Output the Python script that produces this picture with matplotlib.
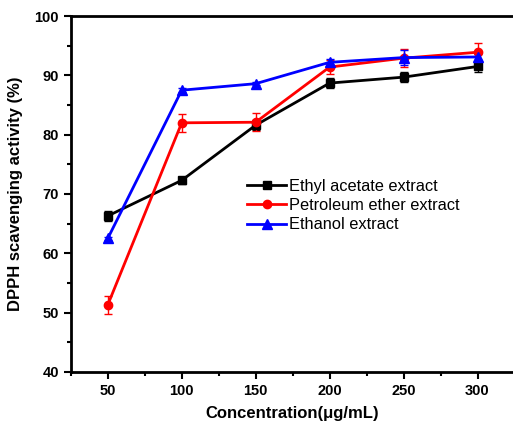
import numpy as np
import matplotlib.pyplot as plt
from matplotlib.ticker import MultipleLocator
from matplotlib.lines import Line2D

plt.rcParams['font.family'] = ['Liberation Sans', 'DejaVu Sans']

conc = [50, 100, 150, 200, 250, 300]

ethyl = [66.3, 72.3, 81.6, 88.7, 89.7, 91.5]
ethyl_err = [0.8, 0.6, 0.8, 0.8, 0.8, 1.0]

petrol = [51.3, 82.0, 82.1, 91.4, 92.9, 93.9]
petrol_err = [1.5, 1.5, 1.5, 1.2, 1.5, 1.5]

ethanol = [62.5, 87.5, 88.6, 92.2, 93.0, 93.1]
ethanol_err = [0.3, 0.3, 0.3, 0.6, 1.2, 0.5]

names = ['Ethyl acetate extract', 'Petroleum ether extract', 'Ethanol extract']
colors = ['black', 'red', 'blue']
markers = ['s', 'o', '^']

fig = plt.figure(figsize=(5.13, 4.34), dpi=100)
ax = fig.add_axes([0.138, 0.143, 0.862, 0.820])

series = [(ethyl, ethyl_err), (petrol, petrol_err), (ethanol, ethanol_err)]
handles = []
for (vals, err), c, m, n in zip(series, colors, markers, names):
    ms = 7 if m == '^' else 6
    ax.errorbar(conc, vals, yerr=err, color=c, marker=m, ms=ms,
                lw=2, capsize=3, elinewidth=1)
    handles.append(Line2D([], [], color=c, marker=m, ms=ms, lw=2, label=n))

ax.set_xlim(25, 324)
ax.set_ylim(40, 100)
ax.set_xticks(conc)
ax.xaxis.set_minor_locator(MultipleLocator(25))
ax.yaxis.set_major_locator(MultipleLocator(10))
ax.yaxis.set_minor_locator(MultipleLocator(5))
ax.tick_params(which='both', direction='out', width=1.5)
ax.tick_params(which='major', length=5, labelsize=10.5)
ax.tick_params(which='minor', length=3)
for lab in ax.get_xticklabels() + ax.get_yticklabels():
    lab.set_fontweight('bold')

for s in ['left', 'bottom', 'top']:
    ax.spines[s].set_linewidth(2)
ax.spines['right'].set_visible(False)

ax.set_xlabel('Concentration(μg/mL)', fontsize=12, fontweight='bold', labelpad=6)
ax.set_ylabel('DPPH scavenging activity (%)', fontsize=12, fontweight='bold', labelpad=8)

ax.legend(handles=handles, loc='upper left', bbox_to_anchor=(0.38, 0.565), frameon=False,
          fontsize=11.8, handlelength=2.4, handletextpad=0.15, labelspacing=0.25,
          borderpad=0)

fig.savefig('out.png', dpi=100)
